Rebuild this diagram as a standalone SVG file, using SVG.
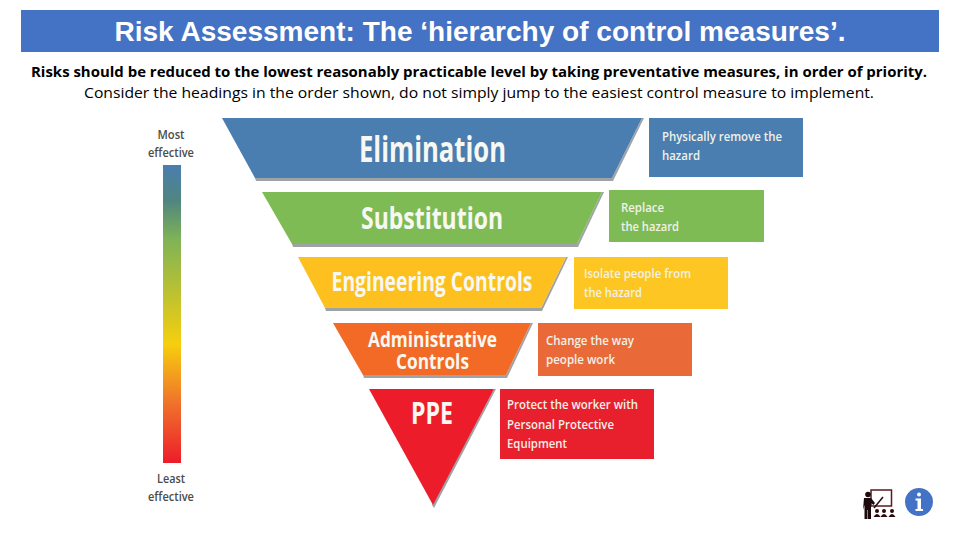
<svg xmlns="http://www.w3.org/2000/svg" width="960" height="540" viewBox="0 0 960 540">
<style>
text{font-family:"Open Sans","Liberation Sans",sans-serif}
.t{font-family:"Liberation Sans",Arial,sans-serif;font-weight:700;font-size:27.500px;fill:#fff;text-anchor:middle}
.s{font-size:14.500px;fill:#000;text-anchor:middle}
.h{font-weight:700;fill:#f8f8f2;text-anchor:middle}
.d{font-weight:600;font-size:12.500px;fill:#f1f1e8}
.l{font-size:12px;font-weight:600;fill:#4a4a4a;text-anchor:middle}
.sh{fill:#a0a3a6}
</style>
<defs>
<linearGradient id="g" x1="0" y1="0" x2="0" y2="1">
<stop offset="0" stop-color="#4a7eb0"/>
<stop offset="0.12" stop-color="#50857f"/>
<stop offset="0.25" stop-color="#7fb356"/>
<stop offset="0.6" stop-color="#f6cf0e"/>
<stop offset="0.8" stop-color="#f0722c"/>
<stop offset="1" stop-color="#ed1c2a"/>
</linearGradient>
</defs>
<g id="header">
<rect x="21" y="10" width="918" height="42" fill="#4472c4"/>
<text class="t" x="480" y="41" textLength="731" lengthAdjust="spacingAndGlyphs">Risk Assessment: The ‘hierarchy of control measures’.</text>
</g>
<g id="intro">
<text class="s" x="479" y="77" font-weight="700" textLength="896" lengthAdjust="spacingAndGlyphs">Risks should be reduced to the lowest reasonably practicable level by taking preventative measures, in order of priority.</text>
<text class="s" x="479" y="98" textLength="790" lengthAdjust="spacingAndGlyphs">Consider the headings in the order shown, do not simply jump to the easiest control measure to implement.</text>
</g>
<g id="scale">
<text class="l" x="171" y="139" textLength="27" lengthAdjust="spacingAndGlyphs">Most</text>
<text class="l" x="171" y="157" textLength="46" lengthAdjust="spacingAndGlyphs">effective</text>
<rect x="163" y="165" width="18" height="298" fill="url(#g)"/>
<text class="l" x="171" y="483" textLength="28" lengthAdjust="spacingAndGlyphs">Least</text>
<text class="l" x="171" y="501" textLength="46" lengthAdjust="spacingAndGlyphs">effective</text>
</g>
<g id="elimination">
<polygon class="sh" points="255,178 612,178 642,118 644,118 613,181 256,181"/>
<polygon points="222,118 642,118 612,178 255,178" fill="#4a7eb0"/>
<text class="h" x="432.500" y="162" font-size="35" textLength="147" lengthAdjust="spacingAndGlyphs">Elimination</text>
<rect x="649" y="118" width="154" height="59" fill="#4a7eb0"/>
<text class="d" x="662" y="141" textLength="120" lengthAdjust="spacingAndGlyphs">Physically remove the</text>
<text class="d" x="662" y="160" textLength="38" lengthAdjust="spacingAndGlyphs">hazard</text>
</g>
<g id="substitution">
<polygon class="sh" points="292,244 577,244 602,192 604,192 578,247 293,247"/>
<polygon points="262,192 602,192 577,244 292,244" fill="#7fbb55"/>
<text class="h" x="432" y="229" font-size="30" textLength="142" lengthAdjust="spacingAndGlyphs">Substitution</text>
<rect x="609" y="190" width="155" height="52" fill="#7fbb55"/>
<text class="d" x="621" y="212" textLength="43" lengthAdjust="spacingAndGlyphs">Replace</text>
<text class="d" x="621" y="231" textLength="58" lengthAdjust="spacingAndGlyphs">the hazard</text>
</g>
<g id="engineering">
<polygon class="sh" points="325,308 541,308 566,257 568,257 542,311 326,311"/>
<polygon points="298,257 566,257 541,308 325,308" fill="#fdc01f"/>
<text class="h" transform="translate(432 291) scale(.72 1)" font-size="26" textLength="279" lengthAdjust="spacingAndGlyphs">Engineering Controls</text>
<rect x="574" y="257" width="154" height="52" fill="#fdc623"/>
<text class="d" x="584" y="278" textLength="107" lengthAdjust="spacingAndGlyphs">Isolate people from</text>
<text class="d" x="584" y="297" textLength="58" lengthAdjust="spacingAndGlyphs">the hazard</text>
</g>
<g id="administrative">
<polygon class="sh" points="363,375 506,375 531,323 533,323 507,378 364,378"/>
<polygon points="333,323 531,323 506,375 363,375" fill="#f26a25"/>
<text class="h" font-size="22"><tspan x="432.500" y="347" textLength="129" lengthAdjust="spacingAndGlyphs">Administrative</tspan><tspan x="432.500" y="369" textLength="73" lengthAdjust="spacingAndGlyphs">Controls</tspan></text>
<rect x="538" y="323" width="154" height="53" fill="#e96a38"/>
<text class="d" x="546" y="345" textLength="88" lengthAdjust="spacingAndGlyphs">Change the way</text>
<text class="d" x="546" y="364" textLength="69" lengthAdjust="spacingAndGlyphs">people work</text>
</g>
<g id="ppe">
<polygon class="sh" points="494,389 496,389 434,508 432,505"/>
<polygon points="369,389 494,389 433,505" fill="#ec1c2b"/>
<text class="h" x="432" y="424" font-size="31" textLength="42" lengthAdjust="spacingAndGlyphs">PPE</text>
<rect x="500" y="389" width="154" height="70" fill="#e81f2d"/>
<text class="d" x="507" y="409" textLength="131" lengthAdjust="spacingAndGlyphs">Protect the worker with</text>
<text class="d" x="507" y="429" textLength="107" lengthAdjust="spacingAndGlyphs">Personal Protective</text>
<text class="d" x="507" y="448" textLength="60" lengthAdjust="spacingAndGlyphs">Equipment</text>
</g>
<g id="trainer-icon">
<rect x="871" y="490" width="20.500" height="16" fill="none" stroke="#5a1a1e" stroke-width="1.500"/>
<path d="M874 508 L883 497" stroke="#2a0a0c" stroke-width="1.500" fill="none"/>
<circle cx="868" cy="494.500" r="2.800" fill="#1c0a0c"/>
<path d="M864 498 H871 L875 503 L873.500 505 L871 503 V519 H868 V510 H867.500 V519 H864.500 V505 L863 510 Z" fill="#1c0a0c"/>
<circle cx="877" cy="511" r="2" fill="#2a0a0c"/><path d="M873.500 517 Q877 511 880.500 517 Z" fill="#2a0a0c"/>
<circle cx="884" cy="511" r="2" fill="#2a0a0c"/><path d="M880.500 517 Q884 511 887.500 517 Z" fill="#2a0a0c"/>
<circle cx="892" cy="511" r="2" fill="#2a0a0c"/><path d="M888.500 517 Q892 511 895.500 517 Z" fill="#2a0a0c"/>
</g>
<g id="info-icon">
<circle cx="919" cy="502" r="14" fill="#4472c4"/>
<circle cx="919" cy="494.500" r="2" fill="#fff"/>
<path d="M915.500 498.500 H921 V509 H923 V511 H915.500 V509 H917.500 V500.500 H915.500 Z" fill="#fff"/>
</g>
</svg>
